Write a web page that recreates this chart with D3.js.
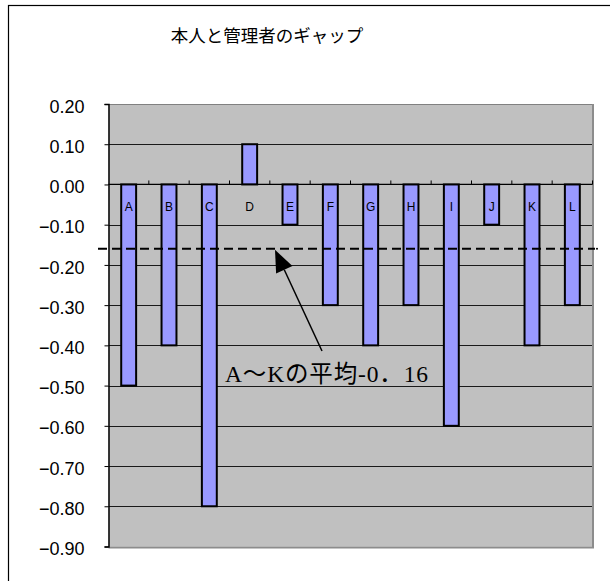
<!DOCTYPE html>
<html>
<head>
<meta charset="utf-8">
<script src="https://cdn.jsdelivr.net/npm/d3@7"></script>
<style>
  html, body { margin: 0; padding: 0; background: #fff; }
  svg { display: block; }
</style>
</head>
<body>
<svg id="chart" width="610" height="581"></svg>
<script>
// Gap between self-assessment and manager assessment, per person
const categories = ["A", "B", "C", "D", "E", "F", "G", "H", "I", "J", "K", "L"];
const gapValues = [-0.5, -0.4, -0.8, 0.1, -0.1, -0.3, -0.4, -0.3, -0.6, -0.1, -0.4, -0.3];
const yTicks = [0.2, 0.1, 0.0, -0.1, -0.2, -0.3, -0.4, -0.5, -0.6, -0.7, -0.8, -0.9];
const titleText = "本人と管理者のギャップ";
const averageValue = -0.16;
const averageLabel = "A～Kの平均-0．16";

const svg = d3.select("#chart");
const plot = { left: 108.5, right: 592.5, top: 104, bottom: 546.5 };

const x = d3.scaleBand().domain(categories).range([plot.left, plot.right]).padding(0);
const y = d3.scaleLinear().domain([-0.9, 0.2]).range([plot.bottom, plot.top]);

// outer chart frame (runs off the right and bottom edges)
svg.append("rect")
  .attr("x", 8.5).attr("y", 5.5).attr("width", 700).attr("height", 700)
  .attr("fill", "#fff").attr("stroke", "#000").attr("stroke-width", 1.2);

// title
svg.append("text")
  .attr("x", 267).attr("y", 42)
  .attr("text-anchor", "middle")
  .attr("font-family", "'Noto Sans CJK JP', sans-serif")
  .attr("font-size", 17.5)
  .attr("fill", "#000")
  .text(titleText);

// plot background
svg.append("rect")
  .attr("x", plot.left).attr("y", plot.top)
  .attr("width", plot.right - plot.left).attr("height", plot.bottom - plot.top)
  .attr("fill", "#c0c0c0");

// horizontal gridlines
svg.append("g").selectAll("line")
  .data(yTicks.filter(d => d > -0.9 && d < 0.2))
  .join("line")
  .attr("x1", plot.left).attr("x2", plot.right)
  .attr("y1", d => Math.round(y(d)) + 0.5).attr("y2", d => Math.round(y(d)) + 0.5)
  .attr("stroke", "#1a1a1a").attr("stroke-width", 1);

// plot border: grey top/right/bottom
svg.append("path")
  .attr("d", `M${plot.left},${plot.top + 0.5}H${plot.right}`)
  .attr("stroke", "#808080").attr("stroke-width", 1).attr("fill", "none");
svg.append("path")
  .attr("d", `M${plot.right + 0.5},${plot.top}V${plot.bottom + 1}H${plot.left}`)
  .attr("stroke", "#8c8c8c").attr("stroke-width", 2).attr("fill", "none");

// y axis
const yAxis = d3.axisLeft(y)
  .tickValues(yTicks)
  .tickSize(4)
  .tickPadding(20)
  .tickFormat(d => {
    const s = Math.abs(d).toFixed(2);
    return d < -1e-9 ? "\u2212" + s : s;
  });
const gy = svg.append("g")
  .attr("transform", `translate(${plot.left},0)`)
  .call(yAxis);
gy.select(".domain").attr("stroke", "#000").attr("stroke-width", 1.5);
gy.selectAll(".tick line").attr("stroke", "#000");
gy.selectAll(".tick text")
  .attr("font-family", "'Liberation Sans', Arial, sans-serif")
  .attr("font-size", 18)
  .attr("fill", "#000")
  .attr("dy", "0.45em");

// bars
const barW = x.bandwidth() * 0.37;
svg.append("g").selectAll("rect")
  .data(categories.map((c, i) => ({ c, v: gapValues[i] })))
  .join("rect")
  .attr("x", d => x(d.c) + (x.bandwidth() - barW) / 2)
  .attr("y", d => y(Math.max(0, d.v)))
  .attr("width", barW)
  .attr("height", d => Math.abs(y(d.v) - y(0)))
  .attr("fill", "#9999ff")
  .attr("stroke", "#000")
  .attr("stroke-width", 2);

// category axis at zero with upward ticks on category boundaries
const zeroY = y(0);
svg.append("line")
  .attr("x1", plot.left).attr("x2", plot.right)
  .attr("y1", zeroY).attr("y2", zeroY)
  .attr("stroke", "#000").attr("stroke-width", 1.2);
svg.append("g").selectAll("line")
  .data(categories.slice(1).concat(["__end"]))
  .join("line")
  .attr("x1", d => d === "__end" ? plot.right : x(d))
  .attr("x2", d => d === "__end" ? plot.right : x(d))
  .attr("y1", zeroY).attr("y2", zeroY - 4)
  .attr("stroke", "#000").attr("stroke-width", 1);

// category labels below the zero line
svg.append("g").selectAll("text")
  .data(categories)
  .join("text")
  .attr("x", d => x(d) + x.bandwidth() / 2)
  .attr("y", zeroY + 27)
  .attr("text-anchor", "middle")
  .attr("font-family", "'Liberation Sans', Arial, sans-serif")
  .attr("font-size", 12)
  .attr("fill", "#000")
  .text(d => d);

// dashed average line
const avgY = y(averageValue);
svg.append("line")
  .attr("x1", 98).attr("x2", 595)
  .attr("y1", avgY).attr("y2", avgY)
  .attr("stroke", "#000").attr("stroke-width", 2)
  .attr("stroke-dasharray", "9,5");
svg.append("circle")
  .attr("cx", 597).attr("cy", avgY).attr("r", 1)
  .attr("fill", "#000");

// arrow pointing at the average line
const tip = [275, avgY + 1];
const tail = [322, 351];
const ang = Math.atan2(tip[1] - tail[1], tip[0] - tail[0]);
const headLen = 22, headHalf = 9;
const bx = tip[0] - headLen * Math.cos(ang), by = tip[1] - headLen * Math.sin(ang);
svg.append("line")
  .attr("x1", tail[0]).attr("y1", tail[1])
  .attr("x2", bx).attr("y2", by)
  .attr("stroke", "#000").attr("stroke-width", 1.5);
svg.append("path")
  .attr("d", `M${tip[0]},${tip[1]}L${bx + headHalf * Math.sin(ang)},${by - headHalf * Math.cos(ang)}L${bx - headHalf * Math.sin(ang)},${by + headHalf * Math.cos(ang)}Z`)
  .attr("fill", "#000");

// average annotation
svg.append("text")
  .attr("x", 225).attr("y", 382)
  .attr("font-family", "'Liberation Serif', 'Noto Sans CJK JP', serif")
  .attr("font-size", 23.5)
  .attr("fill", "#000")
  .attr("textLength", 203)
  .attr("lengthAdjust", "spacing")
  .text(averageLabel);
</script>
</body>
</html>
